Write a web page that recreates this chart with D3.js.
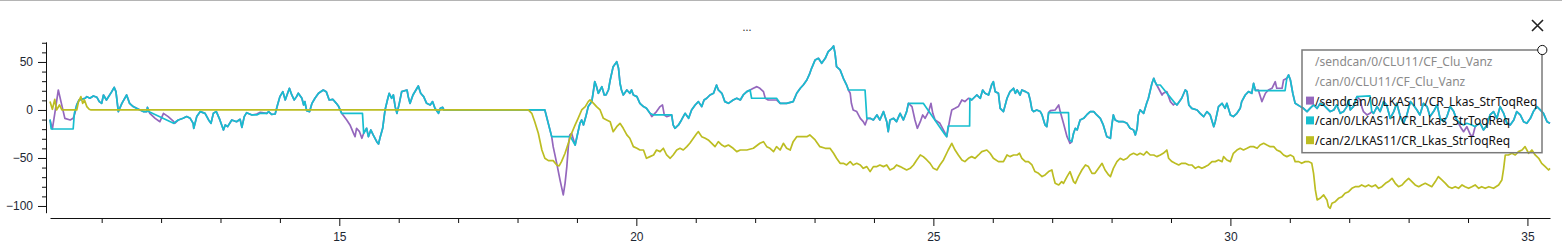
<!DOCTYPE html>
<html>
<head>
<meta charset="utf-8">
<script src="https://cdn.jsdelivr.net/npm/d3@7"></script>
<style>
html, body { margin: 0; padding: 0; background: #fff; }
svg { display: block; font-family: "Noto Sans", "DejaVu Sans", sans-serif; }
</style>
</head>
<body>
<svg id="chart" width="1562" height="252"></svg>
<script>
// time [s], value
var sendcanLkas = [
  [10.13,-10.4],[10.17,-19.8],[10.22,0],[10.27,20.8],[10.31,10],[10.38,-8.7],[10.47,-10.4],[10.52,-8.7],[10.55,-3.5],[10.58,5.2],
  [10.62,10.4],[10.66,11.1],[10.72,12.2],[10.75,13.9],[10.80,12.2],[10.86,14.6],[10.92,13.2],[10.96,8.7],[11.00,6.9],[11.03,15.6],[11.08,10.4],[11.17,19.1],[11.21,23.6],[11.24,19.1],[11.28,-1.7],[11.34,6.9],[11.42,15.6],[11.47,6.9],[11.53,3.5],[11.62,0.7],[11.70,-1.7],
  [11.76,-1.7],[11.77,2.8],[11.81,-3.5],[11.90,-8.7],[11.98,-12.2],[12.04,-3.5],[12.12,-6.9],[12.20,-11.3],[12.23,-13.9],
  [12.29,-10.4],[12.37,-8.7],[12.43,-6.9],[12.49,-8.7],[12.54,-13.9],[12.55,-19.1],[12.60,-6.9],[12.66,-1.7],[12.74,-3.5],[12.80,-10.4],[12.84,-13.9],[12.88,-3.5],[12.93,-1.7],[12.99,-10.4],[13.05,-20.8],[13.08,-15.6],[13.12,-17.4],[13.19,-10.4],[13.27,-12.2],[13.33,-9.7],[13.36,-18.1],[13.40,-6.9],[13.44,-2.8],[13.53,-5.2],[13.61,-4.2],[13.67,-2.5],[13.78,-3.5],[13.81,-1.7],[13.86,-4.5],[13.92,-4.2],[13.96,5.2],[14.00,13.9],[14.05,19.1],[14.09,10.4],[14.13,17.4],[14.16,22.6],[14.20,15.6],[14.24,10.4],[14.28,13.9],[14.31,17.4],[14.37,12.2],[14.40,5.2],[14.42,8.7],[14.45,-0.7],[14.50,-1.7],[14.54,6.9],[14.59,12.2],[14.65,17.4],[14.73,20.8],[14.78,19.1],[14.83,10.4],[14.89,11.1],[14.95,6.9],[14.99,3.5],
  [15.04,-3.5],[15.125,-10.4],[15.18,-15.6],[15.24,-24.3],[15.265,-27.8],[15.29,-19.1],[15.34,-22.6],[15.38,-29.5],[15.41,-24.3],
  [15.46,-19.1],[15.49,-27.8],[15.53,-20.8],[15.57,-26.0],[15.63,-33.0],[15.66,-35.4],[15.69,-27.8],[15.73,-19.1],[15.77,0],[15.81,10.4],[15.84,17.4],[15.88,12.2],[15.91,15.6],[15.94,3.5],[15.97,-3.5],[16.01,6.9],[16.05,19.1],[16.14,20.8],[16.16,13.9],[16.19,6.9],[16.24,15.6],[16.29,20.8],[16.33,25.0],[16.37,17.4],[16.42,13.9],[16.47,6.9],[16.53,5.2],[16.57,8.7],[16.61,1.7],[16.67,-3.5],[16.70,1.7],[16.74,2.8],[16.76,0],[18.46,0],
  [18.575,-27.8],[18.60,-38.2],[18.66,-55.6],[18.715,-72.9],[18.77,-88.5],[18.80,-76.4],[18.83,-59.0],[18.855,-38.2],[18.88,-26.0],[18.91,-24.3],
  [18.97,-36.5],[18.995,-29.5],[19.05,-13.9],[19.08,-10.4],[19.11,-15.6],[19.15,-6.9],[19.19,3.5],[19.25,8.7],[19.28,20.8],[19.30,29.5],[19.33,24.3],[19.36,17.4],[19.39,20.8],[19.42,24.3],[19.46,15.6],[19.49,15.6],[19.53,20.8],[19.56,31.2],[19.61,45.1],[19.67,50.3],[19.70,43.4],[19.725,27.8],[19.75,20.8],[19.78,15.6],[19.84,20.8],[19.89,17.4],[19.92,20.8],[19.95,15.6],[20.01,13.9],[20.06,6.9],[20.12,3.5],[20.17,1.7],
  [20.23,-3.5],[20.26,-6.9],[20.34,-1.7],[20.40,3.5],[20.44,5.2],[20.47,-5.2],[20.51,-6.9],[20.595,-5.2],
  [20.62,-15.6],[20.65,-19.1],[20.71,-15.6],[20.76,-10.4],[20.82,-3.5],[20.88,-8.7],[20.93,0],[20.99,5.2],[21.045,8.7],[21.10,3.5],[21.14,10.4],[21.185,12.2],[21.24,15.6],[21.30,17.4],[21.35,26.0],[21.38,20.8],[21.44,17.4],[21.49,8.7],[21.55,6.9],[21.63,10.4],[21.69,12.2],[21.75,10.4],[21.80,15.6],[21.86,19.1],
  [21.915,20.8],[21.97,22.6],[22.03,24.3],[22.08,22.6],[22.14,19.1],[22.17,12.2],[22.22,10.4],[22.36,10.4],
  [22.42,6.9],[22.53,6.9],[22.64,8.7],[22.70,17.4],[22.76,22.6],[22.81,26.0],[22.87,31.2],[22.92,38.2],[22.95,43.4],[23.01,52.1],[23.065,53.8],[23.12,48.6],[23.18,53.8],[23.23,60.8],[23.29,64.2],[23.32,66.7],[23.345,59.0],[23.37,45.1],[23.43,41.7],[23.485,33.0],[23.54,26.0],
  [23.57,20.8],[23.60,17.4],[23.62,6.9],[23.65,0],[23.71,-1.7],[23.77,-8.7],[23.82,-12.2],[23.85,-15.6],[23.89,-8.7],
  [23.935,-8.7],[23.99,-10.4],[24.05,-5.2],[24.10,-10.4],[24.16,-1.7],[24.215,-12.2],[24.24,-22.6],[24.27,-10.4],[24.33,-8.7],[24.38,-12.2],[24.44,-3.5],[24.495,-10.4],[24.55,-1.7],
  [24.58,6.9],[24.64,3.5],[24.69,-10.4],[24.73,-19.1],[24.78,-12.2],[24.82,-5.2],[24.86,-8.7],[24.92,-1.7],[24.96,6.9],[24.99,-3.5],[25.03,-10.4],[25.11,-13.9],[25.20,-24.3],[25.225,-27.8],[25.28,-8.7],[25.31,0],[25.365,1.7],[25.42,3.5],[25.48,10.4],[25.53,8.7],[25.59,12.2],
  [25.645,10.4],[25.73,15.6],[25.79,12.2],[25.83,20.8],[25.87,17.4],[25.93,15.6],[25.98,26.0],[26.01,29.5],[26.04,19.1],[26.095,17.4],
  [26.125,1.7],[26.18,-1.7],[26.24,12.2],[26.29,19.1],[26.35,22.6],[26.38,17.4],[26.41,20.8],[26.46,15.6],[26.49,20.8],[26.55,19.1],[26.60,17.4],[26.63,10.4],[26.66,0],[26.69,-1.7],[26.74,0],[26.80,-1.7],[26.83,-5.2],[26.88,-15.6],[26.91,-17.4],
  [26.94,-2.8],[26.97,-0.7],[27.05,0],[27.11,5.2],[27.135,-1.7],[27.19,-13.9],[27.25,-27.8],[27.275,-31.2],[27.30,-34.7],
  [27.33,-33.0],[27.36,-24.3],[27.39,-19.1],[27.42,-20.8],[27.47,-10.4],[27.53,-8.7],[27.58,-5.2],[27.64,-1.7],[27.70,-1.7],[27.75,-5.2],[27.81,-8.7],[27.86,-15.6],[27.92,-27.8],[27.98,-29.5],[28.005,-15.6],[28.03,-5.2],[28.06,-10.4],[28.12,-12.2],[28.20,-12.2],[28.26,-13.9],[28.31,-19.1],[28.37,-20.8],[28.40,-26.0],[28.43,-19.1],[28.45,-5.2],[28.48,0],[28.51,-1.7],[28.54,-3.5],[28.59,6.9],[28.62,12.2],[28.68,27.8],[28.71,33.0],[28.73,29.5],
  [28.76,26.0],[28.79,22.6],[28.85,15.6],[28.87,17.4],[28.93,19.1],[28.99,8.7],[29.04,5.2],
  [29.07,6.9],[29.10,5.2],[29.18,12.2],[29.24,20.8],[29.27,19.1],[29.30,5.2],[29.35,1.7],[29.44,0],[29.49,-3.5],[29.55,-6.9],[29.605,-1.7],[29.66,-5.2],[29.72,-17.4],[29.745,-12.2],[29.80,3.5],[29.86,6.9],[29.91,1.7],[29.94,6.9],[30.00,-5.2],[30.05,-6.9],[30.11,-3.5],[30.165,1.7],[30.19,8.7],[30.25,15.6],[30.305,19.1],[30.36,17.4],[30.39,27.8],
  [30.42,20.8],[30.47,20.8],[30.53,8.7],[30.59,17.4],[30.64,20.8],[30.70,22.6],[30.755,29.5],[30.78,22.6],[30.87,22.6],[30.895,31.2],[30.92,32.0],
  [30.95,33.0],[30.98,36.5],[31.01,31.2],[31.05,17.4],[31.09,6.9],[31.18,3.5],[31.23,1.7],[31.29,-1.7],[31.34,1.7],[31.40,5.2],[31.46,1.7],[31.51,6.9],[31.57,5.2],[31.625,1.7],[31.68,-1.7],[31.74,0],[31.79,5.2],[31.85,-3.5],[31.905,-1.7],[31.96,3.5],[31.99,10.4],[32.017,0],[32.07,3.5],
  [32.13,13.9],[32.185,10.4],[32.21,3.5],[32.24,-1.7],[32.30,-5.2],[32.35,-3.5],
  [32.38,-1.7],[32.41,-3.5],[32.47,3.5],[32.52,-1.7],[32.58,8.7],[32.63,5.2],[32.69,-8.7],[32.75,-1.7],[32.80,6.9],[32.86,-6.9],[32.915,-13.9],[32.97,-5.2],[33.03,8.7],[33.08,5.2],[33.14,0],[33.19,-5.2],[33.25,6.9],[33.31,3.5],[33.36,-6.9],[33.42,-1.7],[33.48,5.2],[33.53,-8.7],[33.59,-12.2],[33.645,-6.9],[33.70,3.5],[33.76,-1.7],
  [33.81,-10.4],[33.87,-17.4],[33.925,-22.6],[33.98,-17.4],[34.04,-26.0],[34.08,-27.1],[34.12,-17.4],
  [34.15,-15.6],[34.206,-13.9],[34.26,-20.8],[34.32,-15.6],[34.37,-5.2],[34.43,-1.7],[34.487,-8.7],[34.54,3.5],[34.60,-3.5],[34.655,-13.9],[34.71,-15.6],[34.77,-10.4],[34.82,-1.7],[34.88,-5.2],[34.935,-12.2],[34.99,-13.9],[35.05,-8.7],[35.10,-1.7],[35.16,3.5],[35.216,0],[35.27,-3.5],[35.33,-12.2],[35.38,-13.9]
];

var can0Lkas = [
  [10.13,-9.7],[10.15,-19.8],[10.52,-19.8],[10.54,-3.5],[10.58,5.2],
  [10.62,10.4],[10.66,11.1],[10.72,12.2],[10.75,13.9],[10.80,12.2],[10.86,14.6],[10.92,13.2],[10.96,8.7],[11.00,6.9],[11.03,15.6],[11.08,10.4],[11.17,19.1],[11.21,23.6],[11.24,19.1],[11.28,-1.7],[11.34,6.9],[11.42,15.6],[11.47,6.9],[11.53,3.5],[11.62,0.7],[11.70,-1.7],
  [11.76,-1.7],[11.77,2.8],[11.79,-1.7],[12.21,-13.9],
  [12.29,-10.4],[12.37,-8.7],[12.43,-6.9],[12.49,-8.7],[12.54,-13.9],[12.55,-19.1],[12.60,-6.9],[12.66,-1.7],[12.74,-3.5],[12.80,-10.4],[12.84,-13.9],[12.88,-3.5],[12.93,-1.7],[12.99,-10.4],[13.05,-20.8],[13.08,-15.6],[13.12,-17.4],[13.19,-10.4],[13.27,-12.2],[13.33,-9.7],[13.36,-18.1],[13.40,-6.9],[13.44,-2.8],[13.53,-5.2],[13.61,-5.2],[13.67,-3.5],[13.78,-3.5],[13.81,-1.7],[13.86,-4.5],[13.92,-4.2],[13.96,5.2],[14.00,13.9],[14.05,19.1],[14.09,10.4],[14.13,17.4],[14.16,22.6],[14.20,15.6],[14.24,10.4],[14.28,13.9],[14.31,17.4],[14.37,12.2],[14.40,5.2],[14.42,8.7],[14.45,-0.7],[14.50,-1.7],[14.54,6.9],[14.59,12.2],[14.65,17.4],[14.73,20.8],[14.78,19.1],[14.83,10.4],[14.89,11.1],[14.95,6.9],[14.99,3.5],
  [15.04,-3.5],[15.39,-3.5],[15.41,-24.3],
  [15.46,-19.1],[15.49,-27.8],[15.53,-20.8],[15.57,-26.0],[15.63,-33.0],[15.66,-35.4],[15.69,-27.8],[15.73,-19.1],[15.77,0],[15.81,10.4],[15.84,17.4],[15.88,12.2],[15.91,15.6],[15.94,3.5],[15.97,-3.5],[16.01,6.9],[16.05,19.1],[16.14,20.8],[16.16,13.9],[16.19,6.9],[16.24,15.6],[16.29,20.8],[16.33,25.0],[16.37,17.4],[16.42,13.9],[16.47,6.9],[16.53,5.2],[16.57,8.7],[16.61,1.7],[16.67,-3.5],[16.70,1.7],[16.74,2.8],[16.76,0],[18.46,0],
  [18.575,-27.8],[18.89,-27.8],
  [18.97,-36.5],[18.995,-29.5],[19.05,-13.9],[19.08,-10.4],[19.11,-15.6],[19.15,-6.9],[19.19,3.5],[19.25,8.7],[19.28,20.8],[19.30,29.5],[19.33,24.3],[19.36,17.4],[19.39,20.8],[19.42,24.3],[19.46,15.6],[19.49,15.6],[19.53,20.8],[19.56,31.2],[19.61,45.1],[19.67,50.3],[19.70,43.4],[19.725,27.8],[19.75,20.8],[19.78,15.6],[19.84,20.8],[19.89,17.4],[19.92,20.8],[19.95,15.6],[20.01,13.9],[20.06,6.9],[20.12,3.5],[20.17,1.7],
  [20.23,-3.5],[20.29,-5.2],[20.595,-5.2],
  [20.62,-15.6],[20.65,-19.1],[20.71,-15.6],[20.76,-10.4],[20.82,-3.5],[20.88,-8.7],[20.93,0],[20.99,5.2],[21.045,8.7],[21.10,3.5],[21.14,10.4],[21.185,12.2],[21.24,15.6],[21.30,17.4],[21.35,26.0],[21.38,20.8],[21.44,17.4],[21.49,8.7],[21.55,6.9],[21.63,10.4],[21.69,12.2],[21.75,10.4],[21.80,15.6],[21.86,19.1],
  [21.915,20.8],[21.94,12.2],[22.36,12.2],
  [22.42,6.9],[22.53,6.9],[22.64,8.7],[22.70,17.4],[22.76,22.6],[22.81,26.0],[22.87,31.2],[22.92,38.2],[22.95,43.4],[23.01,52.1],[23.065,53.8],[23.12,48.6],[23.18,53.8],[23.23,60.8],[23.29,64.2],[23.32,66.7],[23.345,59.0],[23.37,45.1],[23.43,41.7],[23.485,33.0],[23.54,26.0],
  [23.57,20.8],[23.85,20.8],[23.88,-8.7],
  [23.935,-8.7],[23.99,-10.4],[24.05,-5.2],[24.10,-10.4],[24.16,-1.7],[24.215,-12.2],[24.24,-22.6],[24.27,-10.4],[24.33,-8.7],[24.38,-12.2],[24.44,-3.5],[24.495,-10.4],[24.55,-1.7],
  [24.58,6.9],[24.83,6.9],[25.20,-26.0],[25.225,-27.8],[25.25,-16.7],[25.61,-16.7],[25.615,12.2],
  [25.645,10.4],[25.73,15.6],[25.79,12.2],[25.83,20.8],[25.87,17.4],[25.93,15.6],[25.98,26.0],[26.01,29.5],[26.04,19.1],[26.095,17.4],
  [26.125,1.7],[26.18,-1.7],[26.24,12.2],[26.29,19.1],[26.35,22.6],[26.38,17.4],[26.41,20.8],[26.46,15.6],[26.49,20.8],[26.55,19.1],[26.60,17.4],[26.63,10.4],[26.66,0],[26.69,-1.7],[26.74,0],[26.80,-1.7],[26.83,-5.2],[26.88,-15.6],[26.91,-17.4],
  [26.94,-2.8],[27.275,-2.8],[27.29,-31.2],
  [27.33,-33.0],[27.36,-24.3],[27.39,-19.1],[27.42,-20.8],[27.47,-10.4],[27.53,-8.7],[27.58,-5.2],[27.64,-1.7],[27.70,-1.7],[27.75,-5.2],[27.81,-8.7],[27.86,-15.6],[27.92,-27.8],[27.98,-29.5],[28.005,-15.6],[28.03,-5.2],[28.06,-10.4],[28.12,-12.2],[28.20,-12.2],[28.26,-13.9],[28.31,-19.1],[28.37,-20.8],[28.40,-26.0],[28.43,-19.1],[28.45,-5.2],[28.48,0],[28.51,-1.7],[28.54,-3.5],[28.59,6.9],[28.62,12.2],[28.68,27.8],[28.71,33.0],[28.73,29.5],
  [28.76,26.0],[28.82,26.0],
  [29.07,6.9],[29.10,5.2],[29.18,12.2],[29.24,20.8],[29.27,19.1],[29.30,5.2],[29.35,1.7],[29.44,0],[29.49,-3.5],[29.55,-6.9],[29.605,-1.7],[29.66,-5.2],[29.72,-17.4],[29.745,-12.2],[29.80,3.5],[29.86,6.9],[29.91,1.7],[29.94,6.9],[30.00,-5.2],[30.05,-6.9],[30.11,-3.5],[30.165,1.7],[30.19,8.7],[30.25,15.6],[30.305,19.1],[30.36,17.4],[30.39,27.8],
  [30.42,20.1],[30.92,20.1],
  [30.95,33.0],[30.98,36.5],[31.01,31.2],[31.05,17.4],[31.09,6.9],[31.18,3.5],[31.23,1.7],[31.29,-1.7],[31.34,1.7],[31.40,5.2],[31.46,1.7],[31.51,6.9],[31.57,5.2],[31.625,1.7],[31.68,-1.7],[31.74,0],[31.79,5.2],[31.85,-3.5],[31.905,-1.7],[31.96,3.5],[31.99,10.4],[32.017,0],[32.07,3.5],
  [32.13,13.9],[32.35,14.6],
  [32.38,-1.7],[32.41,-3.5],[32.47,3.5],[32.52,-1.7],[32.58,8.7],[32.63,5.2],[32.69,-8.7],[32.75,-1.7],[32.80,6.9],[32.86,-6.9],[32.915,-13.9],[32.97,-5.2],[33.03,8.7],[33.08,5.2],[33.14,0],[33.19,-5.2],[33.25,6.9],[33.31,3.5],[33.36,-6.9],[33.42,-1.7],[33.48,5.2],[33.53,-8.7],[33.59,-12.2],[33.645,-6.9],[33.70,3.5],[33.76,-1.7],
  [33.81,-10.4],[33.87,-13.9],[33.925,-15.6],[33.98,-13.9],[34.065,-15.6],[34.12,-17.4],
  [34.15,-15.6],[34.206,-13.9],[34.26,-20.8],[34.32,-15.6],[34.37,-5.2],[34.43,-1.7],[34.487,-8.7],[34.54,3.5],[34.60,-3.5],[34.655,-13.9],[34.71,-15.6],[34.77,-10.4],[34.82,-1.7],[34.88,-5.2],[34.935,-12.2],[34.99,-13.9],[35.05,-8.7],[35.10,-1.7],[35.16,3.5],[35.216,0],[35.27,-3.5],[35.33,-12.2],[35.38,-13.9]
];

var can2Lkas = [
  [10.13,8.7],[10.17,0.7],[10.21,11],[10.24,0],[10.29,5.2],[10.33,0],[10.58,0],[10.61,8.7],[10.65,13.9],[10.68,6.9],[10.71,10.4],[10.75,3.5],[10.79,0.7],[10.82,0],[18.18,0],
  [18.24,-3.5],[18.29,-12.2],[18.35,-24.3],[18.41,-41.7],[18.46,-50.3],[18.52,-52.8],[18.60,-52.8],[18.66,-57.3],[18.70,-58.3],[18.74,-53.8],[18.80,-45.1],[18.855,-34.7],[18.91,-24.3],[18.97,-15.6],[19.02,-8.7],[19.08,0],[19.14,3.5],[19.19,8.7],[19.22,10.4],[19.28,6.9],[19.33,3.5],[19.39,0],[19.445,-8.7],[19.50,-10.4],[19.56,-12.2],[19.61,-22.6],[19.67,-17.4],[19.725,-13.9],[19.78,-19.1],[19.84,-26.0],[19.89,-29.5],[19.95,-38.2],[20.01,-39.9],[20.06,-41.7],[20.12,-41.7],[20.17,-50.3],[20.23,-48.6],[20.29,-46.9],[20.34,-41.7],[20.40,-43.4],[20.455,-39.9],[20.51,-46.9],[20.57,-50.3],[20.62,-46.9],[20.68,-41.7],[20.735,-39.9],[20.79,-41.7],[20.85,-38.2],[20.90,-34.7],[20.96,-29.5],[21.02,-24.3],[21.045,-22.6],[21.10,-27.8],[21.16,-29.5],[21.21,-31.2],[21.27,-34.7],[21.325,-38.2],[21.38,-33.0],[21.44,-36.5],[21.49,-38.2],[21.55,-36.5],[21.63,-39.9],[21.69,-43.4],[21.75,-41.7],[21.86,-41.7],[21.97,-39.9],[22.08,-34.7],[22.14,-33.0],[22.195,-38.2],[22.25,-39.9],[22.31,-43.4],[22.36,-38.2],[22.42,-41.7],[22.475,-34.7],[22.53,-39.9],[22.59,-41.7],[22.64,-33.0],[22.70,-27.8],[22.76,-27.8],[22.87,-27.8],[22.92,-26.0],[23.01,-31.2],[23.09,-38.2],[23.18,-39.9],[23.26,-39.9],[23.32,-45.1],[23.37,-50.3],[23.43,-55.6],[23.485,-55.6],[23.54,-57.3],[23.60,-53.8],[23.65,-57.3],[23.71,-55.6],[23.77,-57.3],[23.82,-60.8],[23.88,-59.0],[23.935,-64.2],[23.99,-59.0],[24.05,-59.0],[24.10,-57.3],[24.16,-59.0],[24.215,-57.3],[24.27,-62.5],[24.33,-60.8],[24.38,-57.3],[24.44,-59.0],[24.495,-60.8],[24.55,-62.5],[24.61,-60.8],[24.665,-57.3],[24.72,-52.1],[24.78,-46.9],[24.83,-48.6],[24.89,-52.1],[24.945,-55.6],[25.00,-60.8],[25.06,-62.5],[25.11,-57.3],[25.17,-52.1],[25.25,-41.7],[25.31,-34.7],[25.365,-41.7],[25.42,-46.9],[25.48,-52.1],[25.53,-53.8],[25.59,-50.3],[25.645,-48.6],[25.70,-50.3],[25.76,-46.9],[25.815,-43.4],[25.90,-41.7],[25.955,-45.1],[26.01,-50.3],[26.095,-53.8],
  [26.18,-53.8],[26.24,-46.9],[26.29,-48.6],[26.35,-46.9],[26.41,-46.9],[26.45,-45.1],[26.49,-50.3],[26.55,-53.8],[26.60,-53.8],[26.66,-57.3],[26.71,-64.2],[26.77,-66.0],[26.83,-69.4],[26.88,-67.7],[26.94,-64.2],[26.995,-62.5],[27.02,-69.4],[27.05,-76.4],[27.11,-78.1],[27.16,-74.6],[27.19,-76.4],[27.25,-69.4],[27.30,-64.2],[27.36,-74.6],[27.39,-76.4],[27.44,-69.4],[27.50,-62.5],[27.56,-57.3],[27.61,-59.0],[27.67,-66.0],[27.72,-66.0],[27.78,-60.8],[27.84,-55.6],[27.89,-62.5],[27.95,-67.7],[27.98,-69.4],[28.03,-60.8],[28.09,-53.8],[28.145,-50.3],[28.20,-52.1],[28.26,-50.3],[28.31,-46.9],[28.37,-45.1],[28.43,-46.9],[28.48,-45.1],[28.54,-46.9],[28.59,-43.4],[28.65,-46.9],[28.71,-46.9],[28.76,-48.6],[28.82,-46.9],[28.87,-45.1],[28.93,-41.7],[28.96,-50.3],[29.015,-53.8],[29.07,-55.6],[29.13,-57.3],[29.18,-55.6],[29.24,-55.6],[29.30,-57.3],[29.35,-57.3],[29.41,-60.8],[29.46,-59.0],[29.52,-60.8],[29.58,-59.0],[29.63,-57.3],[29.69,-53.8],[29.745,-53.8],[29.80,-52.1],[29.86,-53.8],[29.885,-48.6],[29.94,-52.1],[30.00,-53.8],[30.05,-45.1],[30.11,-41.7],[30.165,-39.9],[30.22,-41.7],[30.28,-39.9],[30.33,-38.2],[30.39,-38.2],[30.45,-39.9],[30.50,-36.5],[30.56,-34.7],[30.615,-36.5],[30.67,-38.2],[30.73,-38.2],[30.78,-41.7],[30.84,-43.4],[30.895,-46.9],[30.95,-48.6],[31.01,-46.9],[31.06,-48.6],[31.09,-53.8],[31.15,-53.8],[31.20,-55.6],[31.26,-53.8],[31.32,-53.8],[31.37,-55.6],[31.40,-66.0],[31.43,-83.3],[31.46,-93.7],[31.51,-92.0],
  [31.57,-88.5],[31.625,-93.7],[31.65,-100.7],[31.68,-102.4],[31.71,-97.2],[31.765,-95.5],[31.82,-92.0],[31.88,-90.3],[31.93,-86.8],[31.99,-85.1],[32.045,-81.6],[32.10,-79.9],[32.16,-79.9],[32.21,-78.1],[32.27,-79.9],[32.325,-78.1],[32.38,-79.9],[32.44,-78.1],[32.494,-81.6],[32.55,-79.9],[32.61,-76.4],[32.66,-74.6],[32.72,-71.2],[32.775,-76.4],[32.83,-79.9],[32.89,-78.1],[32.94,-74.6],[33.00,-71.2],[33.055,-74.6],[33.11,-78.1],[33.17,-79.9],[33.22,-78.1],[33.28,-76.4],[33.336,-78.1],[33.39,-79.9],[33.45,-74.6],[33.50,-69.4],[33.56,-72.9],[33.62,-76.4],[33.67,-79.9],[33.73,-81.6],[33.785,-79.9],[33.84,-81.6],[33.90,-78.1],[33.95,-79.9],[34.01,-81.6],[34.065,-79.9],[34.12,-78.1],[34.18,-81.6],[34.23,-79.9],[34.29,-81.6],[34.35,-79.9],[34.43,-81.6],[34.515,-78.1],[34.57,-72.9],[34.60,-60.8],[34.627,-46.9],[34.68,-46.9],[34.74,-45.1],[34.795,-46.9],[34.85,-43.4],[34.91,-41.7],[34.96,-38.2],[35.02,-45.1],[35.075,-41.7],[35.13,-46.9],[35.19,-50.3],[35.24,-55.6],[35.30,-59.0],[35.356,-62.5],[35.38,-60.8]
];

var legendLabels = [
  "/sendcan/0/CLU11/CF_Clu_Vanz",
  "/can/0/CLU11/CF_Clu_Vanz",
  "/sendcan/0/LKAS11/CR_Lkas_StrToqReq",
  "/can/0/LKAS11/CR_Lkas_StrToqReq",
  "/can/2/LKAS11/CR_Lkas_StrToqReq"
];
var legendColors = [null, null, "#9467bd", "#17becf", "#bcbd22"];

var xMinor = d3.range(11, 36);
var xMajor = [15, 20, 25, 30, 35];
var yMinor = d3.range(-100, 71, 10);
var yMajor = [-100, -50, 0, 50];

var svg = d3.select("#chart");

var x = d3.scaleLinear().domain([10.13, 35.38]).range([50, 1550]);
var y = d3.scaleLinear().domain([-107, 71]).range([212.7, 41.8]);

// top border
svg.append("line")
  .attr("x1", 0).attr("x2", 1562).attr("y1", 0.5).attr("y2", 0.5)
  .attr("stroke", "#b4b4b4").attr("stroke-width", 1.2);

svg.append("text")
  .attr("x", 747).attr("y", 31)
  .attr("text-anchor", "middle")
  .style("font-size", "11px").style("fill", "#333")
  .text("...");

// close cross
svg.append("path")
  .attr("d", "M1532,20L1543,31M1543,20L1532,31")
  .attr("stroke", "#222").attr("stroke-width", 1.6).attr("fill", "none");

// axes
var gx = svg.append("g").attr("transform", "translate(0,218)").style("color", "#111");
gx.append("g")
  .call(d3.axisBottom(x).tickValues(xMinor.filter(function(d){ return d % 5 != 0; }))
    .tickSize(5).tickSizeOuter(0).tickFormat(""))
  .call(function(g){ g.select(".domain").remove(); });
gx.append("g")
  .call(d3.axisBottom(x).tickValues(xMajor).tickSize(8).tickSizeOuter(0).tickPadding(6))
  .selectAll("text").style("font-size", "12px").style("fill", "#1d2733");

var gy = svg.append("g").attr("transform", "translate(46,0)").style("color", "#111");
gy.append("g")
  .call(d3.axisLeft(y).tickValues(yMinor.filter(function(d){ return d % 50 != 0; }))
    .tickSize(4).tickSizeOuter(0).tickFormat(""))
  .call(function(g){ g.select(".domain").remove(); });
gy.append("g")
  .call(d3.axisLeft(y).tickValues(yMajor).tickSize(8).tickSizeOuter(0).tickPadding(5))
  .selectAll("text").style("font-size", "12px").style("fill", "#1d2733");

// series
var line = d3.line()
  .x(function(d){ return x(d[0]); })
  .y(function(d){ return y(d[1]); });

var series = [
  { data: sendcanLkas, color: legendColors[2] },
  { data: can0Lkas, color: legendColors[3] },
  { data: can2Lkas, color: legendColors[4] }
];

svg.append("g").selectAll("path")
  .data(series)
  .enter()
  .append("path")
  .attr("d", function(d){ return line(d.data); })
  .attr("fill", "none")
  .attr("stroke", function(d){ return d.color; })
  .attr("stroke-width", 1.7)
  .attr("stroke-linejoin", "round");

// legend
var legend = svg.append("g");
legend.append("rect")
  .attr("x", 1302).attr("y", 50).attr("width", 240).attr("height", 102.7)
  .attr("fill", "none").attr("stroke", "#7a7a7a").attr("stroke-width", 1.5);

var rows = legend.selectAll(".row")
  .data(legendLabels)
  .enter()
  .append("g")
  .attr("class", "row")
  .attr("transform", function(d, i){ return "translate(0," + (61.5 + i * 19.8) + ")"; });

rows.filter(function(d, i){ return legendColors[i]; })
  .append("rect")
  .attr("x", 1306).attr("y", -4.5).attr("width", 8).attr("height", 8)
  .attr("fill", function(d){ return legendColors[legendLabels.indexOf(d)]; });

rows.append("text")
  .attr("x", 1315)
  .attr("dominant-baseline", "central")
  .style("font-size", "12px")
  .style("fill", function(d, i){ return legendColors[i] ? "#111" : "#8a8a8a"; })
  .text(function(d){ return d; });

legend.append("circle")
  .attr("cx", 1542.3).attr("cy", 50).attr("r", 4.6)
  .attr("fill", "#fff").attr("stroke", "#111").attr("stroke-width", 1);
</script>
</body>
</html>
